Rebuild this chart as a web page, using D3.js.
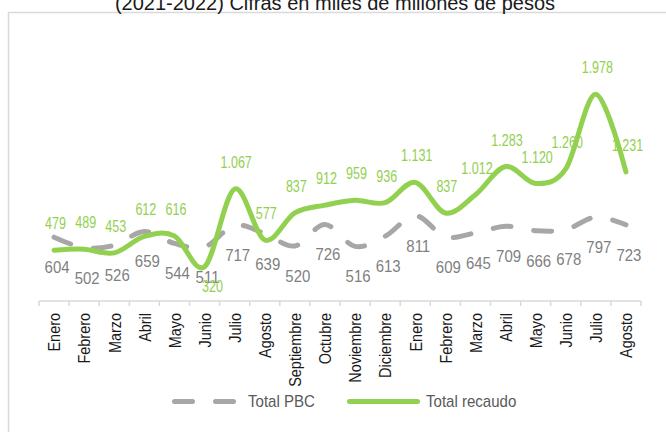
<!DOCTYPE html>
<html>
<head>
<meta charset="utf-8">
<script src="https://cdn.jsdelivr.net/npm/d3@7"></script>
<style>
html,body{margin:0;padding:0;background:#fff;}
svg{display:block;}
</style>
</head>
<body>
<svg id="chart" width="666" height="432"></svg>
<script>
const months = ["Enero","Febrero","Marzo","Abril","Mayo","Junio","Julio","Agosto","Septiembre","Octubre","Noviembre","Diciembre","Enero","Febrero","Marzo","Abril","Mayo","Junio","Julio","Agosto"];
const totalPBC = [604,502,526,659,544,511,717,639,520,726,516,613,811,609,645,709,666,678,797,723];
const totalRecaudo = [479,489,453,612,616,320,1067,577,837,912,959,936,1131,837,1012,1283,1120,1260,1978,1231];
const seriesNames = ["Total PBC","Total recaudo"];
const titleText = "(2021-2022) Cifras en miles de millones de pesos";

const svg = d3.select("#chart");
const green = "#92d050", grayLine = "#a8a6a6", grayLabel = "#7f7f7f";
const FONT = "Liberation Sans, Arial, sans-serif";
const idx = months.map((d,i)=>i);

const locale = d3.formatLocale({decimal:",", thousands:".", grouping:[3], currency:["$",""]});
const fmt = locale.format(",d");

const x = d3.scaleBand().domain(idx).range([39, 641]).padding(0);
const cx = i => x(i) + x.bandwidth()/2;
const y = d3.scaleLinear().domain([0, 2500]).range([300, 40]);

// frame
svg.append("rect").attr("x",8.5).attr("y",12.5).attr("width",700).attr("height",500)
  .attr("fill","none").attr("stroke","#d9d9d9").attr("stroke-width",1.5);

// title
svg.append("text").attr("x",335).attr("y",9.5).attr("text-anchor","middle")
  .attr("font-family",FONT).attr("font-size",20)
  .attr("fill","#1a1a1a").text(titleText);

// axis
const axis = d3.axisBottom(x).tickSize(0).tickFormat(i=>months[i]);
const gAxis = svg.append("g").attr("transform","translate(0,301)").call(axis);
gAxis.select(".domain").remove();
gAxis.selectAll(".tick line").remove();
gAxis.append("line").attr("x1",39).attr("x2",641).attr("y1",0).attr("y2",0)
  .attr("stroke","#d9d9d9").attr("stroke-width",1.5);
const bounds = d3.range(months.length+1).map(i => i<months.length ? x(i) : x(months.length-1)+x.bandwidth());
gAxis.selectAll(".bt").data(bounds).join("line").attr("class","bt")
  .attr("x1",d=>d).attr("x2",d=>d).attr("y1",0).attr("y2",5)
  .attr("stroke","#d9d9d9").attr("stroke-width",1.5);
gAxis.selectAll(".tick text")
  .attr("font-family",FONT).attr("font-size",17.4)
  .attr("fill","#1a1a1a")
  .attr("text-anchor","end")
  .attr("transform","translate(0,12) rotate(-90) scale(0.83,1)")
  .attr("x",0).attr("y",0).attr("dy","0.36em").attr("dx",0);

// labels (drawn below lines)
const gLab = svg.append("g");
gLab.selectAll(".lg").data(totalPBC).join("text").attr("class","lg")
  .attr("transform",(d,i)=>`translate(${cx(i)+3},${y(d)+36}) scale(0.92,1)`)
  .attr("text-anchor","middle")
  .attr("font-family",FONT)
  .attr("font-size",16.3).attr("fill",grayLabel).text(d=>fmt(d));
gLab.selectAll(".lr").data(totalRecaudo).join("text").attr("class","lr")
  .attr("transform",(d,i)=>`translate(${cx(i)+(i===5?8:1.5)},${i===5 ? y(d)+25 : y(d)-21}) scale(0.77,1)`)
  .attr("text-anchor","middle")
  .attr("font-family",FONT)
  .attr("font-size",16.3).attr("fill",green).text(d=>fmt(d));

// lines
const line = d3.line().x((d,i)=>cx(i)).y(d=>y(d)).curve(d3.curveCardinal.tension(0));
svg.append("path").attr("d",line(totalPBC)).attr("fill","none")
  .attr("stroke",grayLine).attr("stroke-width",5).attr("stroke-linecap","round")
  .attr("stroke-dasharray","18,23");
svg.append("path").attr("d",line(totalRecaudo)).attr("fill","none")
  .attr("stroke",green).attr("stroke-width",5).attr("stroke-linecap","round")
  .attr("stroke-linejoin","round");

// legend
const gLeg = svg.append("g");
gLeg.append("line").attr("x1",174.5).attr("x2",234.5).attr("y1",401.5).attr("y2",401.5)
  .attr("stroke",grayLine).attr("stroke-width",5).attr("stroke-linecap","round").attr("stroke-dasharray","18,23");
gLeg.append("text").attr("transform","translate(248,401.5) scale(0.93,1)").attr("dy","0.36em")
  .attr("font-family",FONT).attr("font-size",16.2)
  .attr("fill","#595959").text(seriesNames[0]);
gLeg.append("line").attr("x1",349.5).attr("x2",417.5).attr("y1",401.5).attr("y2",401.5)
  .attr("stroke",green).attr("stroke-width",5).attr("stroke-linecap","round");
gLeg.append("text").attr("transform","translate(426,401.5) scale(0.93,1)").attr("dy","0.36em")
  .attr("font-family",FONT).attr("font-size",16.2)
  .attr("fill","#595959").text(seriesNames[1]);
</script>
</body>
</html>
